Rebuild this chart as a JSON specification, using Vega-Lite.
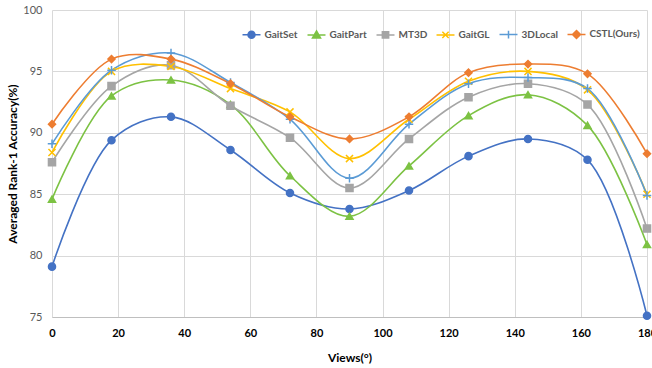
{
  "$schema": "https://vega.github.io/schema/vega-lite/v6.json",
  "autosize": "none",
  "width": 595,
  "height": 307,
  "padding": {"left": 52, "top": 10, "right": 5, "bottom": 51},
  "background": "white",
  "config": {
    "view": {"stroke": null},
    "font": "Lato",
    "axis": {"gridColor": "#D9D9D9", "gridWidth": 1, "domainColor": "#D9D9D9", "ticks": false, "titleFont": "Lato", "labelFont": "Lato"}
  },
  "data": {
    "values": [
      {"model": "GaitSet", "view": 0, "acc": 79.1}, {"model": "GaitSet", "view": 18, "acc": 89.4}, {"model": "GaitSet", "view": 36, "acc": 91.3}, {"model": "GaitSet", "view": 54, "acc": 88.6}, {"model": "GaitSet", "view": 72, "acc": 85.1}, {"model": "GaitSet", "view": 90, "acc": 83.8}, {"model": "GaitSet", "view": 108, "acc": 85.3}, {"model": "GaitSet", "view": 126, "acc": 88.1}, {"model": "GaitSet", "view": 144, "acc": 89.5}, {"model": "GaitSet", "view": 162, "acc": 87.8}, {"model": "GaitSet", "view": 180, "acc": 75.1},
      {"model": "GaitPart", "view": 0, "acc": 84.6}, {"model": "GaitPart", "view": 18, "acc": 93.0}, {"model": "GaitPart", "view": 36, "acc": 94.3}, {"model": "GaitPart", "view": 54, "acc": 92.3}, {"model": "GaitPart", "view": 72, "acc": 86.5}, {"model": "GaitPart", "view": 90, "acc": 83.2}, {"model": "GaitPart", "view": 108, "acc": 87.3}, {"model": "GaitPart", "view": 126, "acc": 91.4}, {"model": "GaitPart", "view": 144, "acc": 93.1}, {"model": "GaitPart", "view": 162, "acc": 90.6}, {"model": "GaitPart", "view": 180, "acc": 80.9},
      {"model": "MT3D", "view": 0, "acc": 87.6}, {"model": "MT3D", "view": 18, "acc": 93.8}, {"model": "MT3D", "view": 36, "acc": 95.5}, {"model": "MT3D", "view": 54, "acc": 92.2}, {"model": "MT3D", "view": 72, "acc": 89.6}, {"model": "MT3D", "view": 90, "acc": 85.5}, {"model": "MT3D", "view": 108, "acc": 89.5}, {"model": "MT3D", "view": 126, "acc": 92.9}, {"model": "MT3D", "view": 144, "acc": 94.0}, {"model": "MT3D", "view": 162, "acc": 92.3}, {"model": "MT3D", "view": 180, "acc": 82.2},
      {"model": "GaitGL", "view": 0, "acc": 88.4}, {"model": "GaitGL", "view": 18, "acc": 95.0}, {"model": "GaitGL", "view": 36, "acc": 95.4}, {"model": "GaitGL", "view": 54, "acc": 93.6}, {"model": "GaitGL", "view": 72, "acc": 91.7}, {"model": "GaitGL", "view": 90, "acc": 87.9}, {"model": "GaitGL", "view": 108, "acc": 91.1}, {"model": "GaitGL", "view": 126, "acc": 94.2}, {"model": "GaitGL", "view": 144, "acc": 95.0}, {"model": "GaitGL", "view": 162, "acc": 93.5}, {"model": "GaitGL", "view": 180, "acc": 85.0},
      {"model": "3DLocal", "view": 0, "acc": 89.1}, {"model": "3DLocal", "view": 18, "acc": 95.1}, {"model": "3DLocal", "view": 36, "acc": 96.5}, {"model": "3DLocal", "view": 54, "acc": 94.1}, {"model": "3DLocal", "view": 72, "acc": 91.1}, {"model": "3DLocal", "view": 90, "acc": 86.3}, {"model": "3DLocal", "view": 108, "acc": 90.7}, {"model": "3DLocal", "view": 126, "acc": 94.0}, {"model": "3DLocal", "view": 144, "acc": 94.5}, {"model": "3DLocal", "view": 162, "acc": 93.6}, {"model": "3DLocal", "view": 180, "acc": 84.9},
      {"model": "CSTL(Ours)", "view": 0, "acc": 90.7}, {"model": "CSTL(Ours)", "view": 18, "acc": 96.0}, {"model": "CSTL(Ours)", "view": 36, "acc": 96.0}, {"model": "CSTL(Ours)", "view": 54, "acc": 94.0}, {"model": "CSTL(Ours)", "view": 72, "acc": 91.3}, {"model": "CSTL(Ours)", "view": 90, "acc": 89.5}, {"model": "CSTL(Ours)", "view": 108, "acc": 91.3}, {"model": "CSTL(Ours)", "view": 126, "acc": 94.9}, {"model": "CSTL(Ours)", "view": 144, "acc": 95.6}, {"model": "CSTL(Ours)", "view": 162, "acc": 94.8}, {"model": "CSTL(Ours)", "view": 180, "acc": 88.3}
    ]
  },
  "encoding": {
    "x": {
      "field": "view", "type": "quantitative",
      "scale": {"domain": [0, 180], "nice": false},
      "axis": {"values": [0, 20, 40, 60, 80, 100, 120, 140, 160, 180], "title": "Views(°)", "titleFontSize": 12, "titleFontWeight": "bold", "titleColor": "#000000", "titlePadding": 14, "labelFontSize": 11, "labelFontWeight": "bold", "labelColor": "#000000", "labelPadding": 10, "domainColor": "#BFBFBF", "labelFlush": false}
    },
    "y": {
      "field": "acc", "type": "quantitative",
      "scale": {"domain": [75, 100], "nice": false, "zero": false},
      "axis": {"values": [75, 80, 85, 90, 95, 100], "title": "Averaged Rank-1 Accuracy(%)", "titleFontSize": 12, "titleFontWeight": "bold", "titleColor": "#000000", "titlePadding": 3, "labelFontSize": 11, "labelColor": "#595959", "labelPadding": 10, "domain": false}
    }
  },
  "resolve": {"scale": {"shape": "independent", "fill": "independent", "stroke": "independent"}},
  "layer": [
    {
      "mark": {"type": "line", "interpolate": "catmull-rom", "strokeWidth": 1.6},
      "encoding": {
        "color": {
          "field": "model", "type": "nominal",
          "scale": {"domain": ["GaitSet", "GaitPart", "MT3D", "GaitGL", "3DLocal", "CSTL(Ours)"], "range": ["#4472C4", "#7CC243", "#A5A5A5", "#FFC000", "#5B9BD5", "#ED7D31"]},
          "legend": null
        }
      }
    },
    {
      "mark": {"type": "point", "filled": true, "size": 50, "opacity": 1, "strokeWidth": 1.5},
      "encoding": {
        "fill": {
          "field": "model", "type": "nominal",
          "scale": {"domain": ["GaitSet", "GaitPart", "MT3D", "GaitGL", "3DLocal", "CSTL(Ours)"], "range": ["#4472C4", "#7CC243", "#A5A5A5", "#FFC000", "#5B9BD5", "#ED7D31"]},
          "legend": null
        },
        "shape": {
          "field": "model", "type": "nominal",
          "scale": {"domain": ["GaitSet", "GaitPart", "MT3D", "GaitGL", "3DLocal", "CSTL(Ours)"], "range": ["circle", "triangle-up", "square", "M-1,-1L1,1M-1,1L1,-1", "M-1.2,0L1.2,0M0,-1.2L0,1.2", "diamond"]},
          "legend": null
        },
        "stroke": {
          "field": "model", "type": "nominal",
          "scale": {"domain": ["GaitSet", "GaitPart", "MT3D", "GaitGL", "3DLocal", "CSTL(Ours)"], "range": ["#4472C4", "#7CC243", "#A5A5A5", "#FFC000", "#5B9BD5", "#ED7D31"]},
          "legend": null
        }
      }
    },
    {
      "mark": {"type": "point", "filled": true, "size": 50, "opacity": 0, "strokeWidth": 1.5},
      "encoding": {
        "fill": {
          "field": "model", "type": "nominal",
          "scale": {"domain": ["GaitSet", "GaitPart", "MT3D", "GaitGL", "3DLocal", "CSTL(Ours)"], "range": ["#4472C4", "#7CC243", "#A5A5A5", "#FFC000", "#5B9BD5", "#ED7D31"]},
          "legend": {
            "orient": "none", "legendX": 194.5, "legendY": 19, "direction": "horizontal", "columns": 6, "padding": 0,
            "title": null, "symbolSize": 49, "symbolStrokeWidth": 1.5, "symbolOpacity": 1,
            "labelFontSize": 10, "labelFontWeight": "bold", "labelColor": "#595959", "labelOffset": 8, "columnPadding": 6
          }
        },
        "shape": {
          "field": "model", "type": "nominal",
          "scale": {"domain": ["GaitSet", "GaitPart", "MT3D", "GaitGL", "3DLocal", "CSTL(Ours)"], "range": ["M-2.57,0L2.57,0M1,0A1,1,0,1,1,-1,0A1,1,0,1,1,1,0Z", "M-2.57,0L2.57,0M0,-1.15L1.15,0.85L-1.15,0.85Z", "M-2.57,0L2.57,0M-0.9,-0.9L0.9,-0.9L0.9,0.9L-0.9,0.9Z", "M-2.57,0L2.57,0M-0.9,-0.9L0.9,0.9M-0.9,0.9L0.9,-0.9", "M-2.57,0L2.57,0M0,-1.1L0,1.1", "M-2.57,0L2.57,0M0,-1.15L1.15,0L0,1.15L-1.15,0Z"]},
          "legend": {
            "orient": "none", "legendX": 194.5, "legendY": 19, "direction": "horizontal", "columns": 6, "padding": 0,
            "title": null, "symbolSize": 49, "symbolStrokeWidth": 1.5, "symbolOpacity": 1,
            "labelFontSize": 10, "labelFontWeight": "bold", "labelColor": "#595959", "labelOffset": 8, "columnPadding": 6
          }
        },
        "stroke": {
          "field": "model", "type": "nominal",
          "scale": {"domain": ["GaitSet", "GaitPart", "MT3D", "GaitGL", "3DLocal", "CSTL(Ours)"], "range": ["#4472C4", "#7CC243", "#A5A5A5", "#FFC000", "#5B9BD5", "#ED7D31"]},
          "legend": {
            "orient": "none", "legendX": 194.5, "legendY": 19, "direction": "horizontal", "columns": 6, "padding": 0,
            "title": null, "symbolSize": 49, "symbolStrokeWidth": 1.5, "symbolOpacity": 1,
            "labelFontSize": 10, "labelFontWeight": "bold", "labelColor": "#595959", "labelOffset": 8, "columnPadding": 6
          }
        }
      }
    }
  ]
}
